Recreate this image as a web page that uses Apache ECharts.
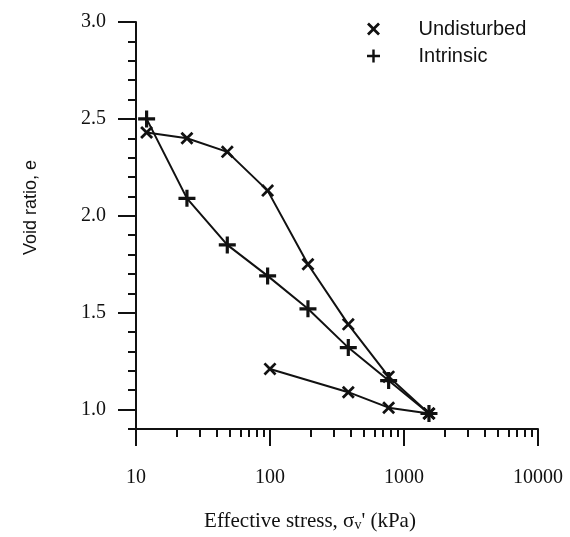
<!DOCTYPE html>
<html>
<head>
<meta charset="utf-8">
<script src="https://cdn.jsdelivr.net/npm/echarts@6/dist/echarts.min.js"></script>
<style>html,body{margin:0;padding:0;background:#fff}#c{width:570px;height:537px}</style>
</head>
<body>
<div id="c"></div>
<script>
// ---- data ----
var undisturbedLoad = [[12, 2.43], [24, 2.40], [48, 2.33], [96, 2.13], [192, 1.75], [384, 1.44], [768, 1.17], [1536, 0.98]];
var undisturbedUnload = [[1536, 0.98], [768, 1.01], [384, 1.09], [100, 1.21]];
var intrinsic = [[12, 2.50], [24, 2.09], [48, 1.85], [96, 1.69], [192, 1.52], [384, 1.32], [768, 1.15], [1536, 0.98]];
var xMajorTicks = [10, 100, 1000, 10000];
var xMinorTicks = [20, 30, 40, 50, 60, 70, 80, 90, 200, 300, 400, 500, 600, 700, 800, 900, 2000, 3000, 4000, 5000, 6000, 7000, 8000, 9000];
var yMajorTicks = [1.0, 1.5, 2.0, 2.5, 3.0];
var seriesNames = ['Undisturbed', 'Intrinsic'];
var xTitle = 'Effective stress, σ';
var yTitle = 'Void ratio, e';

var INK = '#111';
var SERIF = '"Liberation Serif", "DejaVu Serif", serif';
var SANS = '"Liberation Sans", Arial, sans-serif';
var crossPath = 'path://M0,1.5L1.5,0L5,3.5L8.5,0L10,1.5L6.5,5L10,8.5L8.5,10L5,6.5L1.5,10L0,8.5L3.5,5Z';
var plusPath = 'path://M6.5,0H9.5V6.5H16V9.5H9.5V16H6.5V9.5H0V6.5H6.5Z';

var chart = echarts.init(document.getElementById('c'), null, {renderer: 'canvas'});
chart.setOption({
  backgroundColor: '#fff',
  animation: false,
  grid: {left: 136, right: 32, top: 22, bottom: 107, containLabel: false},
  legend: {
    orient: 'vertical',
    left: 362,
    top: 14,
    itemWidth: 80,
    itemHeight: 13,
    itemGap: 7,
    symbolKeepAspect: true,
    textStyle: {fontFamily: SANS, fontSize: 20, color: INK, lineHeight: 20},
    data: [
      {name: seriesNames[0], icon: crossPath, itemStyle: {color: INK}},
      {name: seriesNames[1], icon: plusPath, itemStyle: {color: INK}}
    ]
  },
  xAxis: [{
    type: 'log', logBase: 10, min: 10, max: 10000,
    position: 'bottom',
    name: xTitle + '{sub|v}' + "' (kPa)",
    nameLocation: 'middle', nameGap: 81,
    nameTextStyle: {
      fontFamily: SERIF, fontSize: 21, color: INK, padding: [0, 54, 0, 0],
      rich: {sub: {fontFamily: SERIF, fontSize: 14, color: INK, verticalAlign: 'bottom', padding: [8, 0, 0, 0]}}
    },
    axisLine: {show: true, lineStyle: {color: INK, width: 2}},
    axisTick: {show: true, inside: false, length: 17, lineStyle: {color: INK, width: 2}, customValues: xMajorTicks},
    axisLabel: {show: true, margin: 39, fontFamily: SERIF, fontSize: 20, color: INK, customValues: xMajorTicks,
      formatter: function (v) { return String(Math.round(v)); }},
    splitLine: {show: false}
  }, {
    type: 'log', logBase: 10, min: 10, max: 10000,
    position: 'bottom',
    axisLine: {show: false},
    axisTick: {show: true, inside: false, length: 8, lineStyle: {color: INK, width: 2}, customValues: xMinorTicks},
    axisLabel: {show: false},
    splitLine: {show: false}
  }],
  yAxis: [{
    type: 'value', min: 0.9, max: 3.0, interval: 0.1,
    position: 'left',
    name: yTitle,
    nameLocation: 'middle', nameGap: 96, nameRotate: 90,
    nameTextStyle: {fontFamily: SANS, fontSize: 18, color: INK, padding: [0, 0, 0, 36]},
    axisLine: {show: true, lineStyle: {color: INK, width: 2}},
    axisTick: {show: true, inside: false, length: 18, lineStyle: {color: INK, width: 2}, customValues: yMajorTicks},
    axisLabel: {show: true, margin: 30, fontFamily: SERIF, fontSize: 20, color: INK, customValues: yMajorTicks,
      formatter: function (v) { return v.toFixed(1); }},
    splitLine: {show: false}
  }, {
    type: 'value', min: 0.9, max: 3.0, interval: 0.1,
    position: 'left',
    axisLine: {show: false},
    axisTick: {show: true, inside: false, length: 8, lineStyle: {color: INK, width: 2}},
    axisLabel: {show: false},
    splitLine: {show: false}
  }],
  series: [{
    name: seriesNames[0], type: 'line', xAxisIndex: 0, yAxisIndex: 0,
    data: undisturbedLoad,
    symbol: crossPath, symbolSize: 13, symbolKeepAspect: true,
    itemStyle: {color: INK}, lineStyle: {color: INK, width: 2}, z: 3
  }, {
    name: seriesNames[0], type: 'line', xAxisIndex: 0, yAxisIndex: 0,
    data: undisturbedUnload,
    symbol: crossPath, symbolSize: 13, symbolKeepAspect: true,
    itemStyle: {color: INK}, lineStyle: {color: INK, width: 2}, z: 3
  }, {
    name: seriesNames[1], type: 'line', xAxisIndex: 0, yAxisIndex: 0,
    data: intrinsic,
    symbol: plusPath, symbolSize: 17, symbolKeepAspect: true,
    itemStyle: {color: INK}, lineStyle: {color: INK, width: 2}, z: 4
  }]
});
</script>
</body>
</html>
